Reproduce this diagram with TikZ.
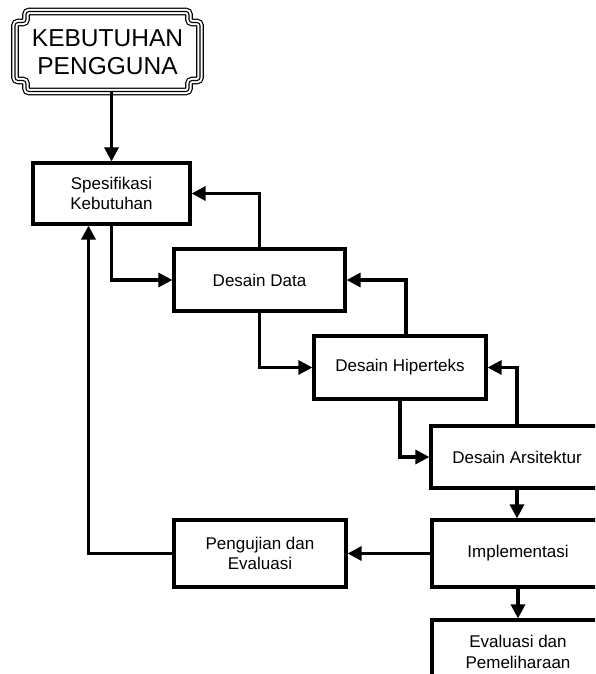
\documentclass[tikz,border=0pt]{standalone}
\usepackage{fontspec}
\setmainfont{Liberation Sans}
\usetikzlibrary{arrows.meta,calc}
\begin{document}
\begin{tikzpicture}[x=1pt,y=-1pt,
  box/.style={draw,line width=3.2pt,minimum width=172pt,align=center,
    font=\fontsize{17}{20.5}\selectfont,inner sep=0pt},
  conn/.style={line width=3.2pt,-{Triangle[length=14pt,width=14pt]}},
  framestroke/.style={rounded corners=3pt,line join=miter}]
\useasboundingbox (0,0) rectangle (595,674);
\clip (0,0) rectangle (595,674);

% title
\node[font=\fontsize{24.5}{28}\selectfont,align=center,minimum width=185pt,
  minimum height=80pt,inner sep=0pt] (keb) at (107.5,51.7) {KEBUTUHAN\\PENGGUNA};
\foreach \w/\c in {7.6pt/black,5.2pt/white,1.1pt/black}
  \draw[framestroke,line width=\w,\c] (keb.north) -- ++(81.5pt,0pt) -- ++(0pt,-11pt)
    -- ++(11pt,0pt) -- ++(0pt,-58pt) -- ++(-11pt,0pt) -- ++(0pt,-11pt)
    -- ++(-163pt,0pt) -- ++(0pt,11pt) -- ++(-11pt,0pt) -- ++(0pt,58pt)
    -- ++(11pt,0pt) -- ++(0pt,11pt) -- cycle;

% boxes
\node[box,minimum width=157pt,minimum height=61pt] (spec) at (111.5,193.5) {Spesifikasi\\Kebutuhan};
\node[box,minimum width=171pt,minimum height=62pt] (data) at (259.5,280) {Desain Data};
\node[box,minimum height=63pt] (hip) at (400,367.5) {Desain Hiperteks};
\node[box,minimum height=62pt] (arch) at (517,457) {Desain Arsitektur};
\node[box,minimum height=67pt] (impl) at (518,553.5) {Implementasi};
\node[box,minimum height=67pt] (peng) at (260,553.5) {Pengujian dan\\Evaluasi};
\node[box,minimum height=64pt] (eval) at (518,652) {Evaluasi dan\\Pemeliharaan};

% connectors
\draw[conn] (keb.south -| spec.north) -- (spec.north);
\draw[conn] (spec.south) |- (data.west);
\draw[conn] (data.north) |- (spec.east);
\draw[conn] (data.south) |- (hip.west);
\draw[conn] ([xshift=6pt]hip.north) |- (data.east);
\draw[conn] (hip.south) |- (arch.west);
\draw[conn] (arch.north) |- (hip.east);
\draw[conn] (arch.south) -- (arch.south |- impl.north);
\draw[conn] (impl.west) -- (peng.east);
\draw[conn] (impl.south) -- (eval.north);
\draw[conn] (peng.west) -| ([xshift=-23pt]spec.south);
\end{tikzpicture}
\end{document}
